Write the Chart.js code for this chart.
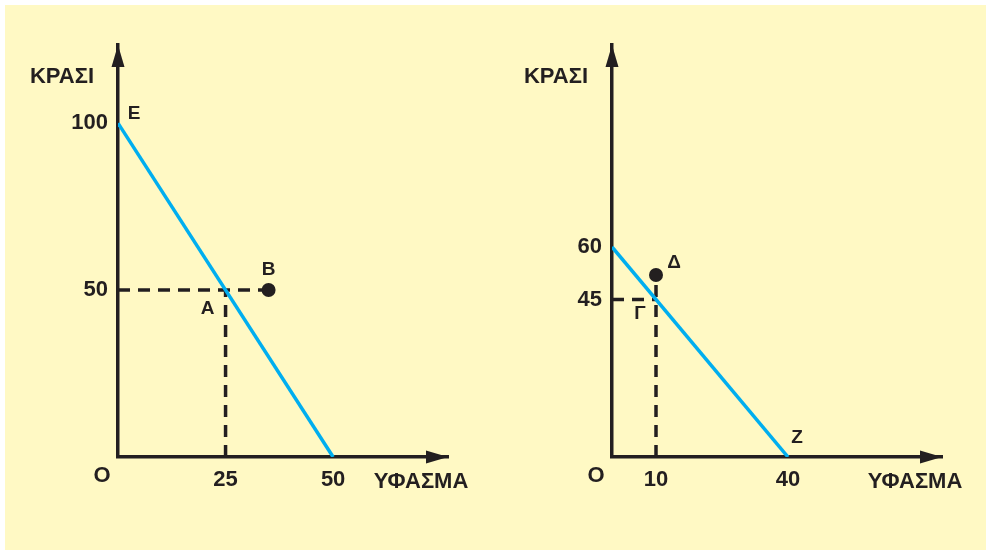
<!DOCTYPE html>
<html>
<head>
<meta charset="utf-8">
<script src="https://cdn.jsdelivr.net/npm/chart.js@4.4.1/dist/chart.umd.min.js"></script>
<style>
  body { margin: 0; background: #fff; width: 986px; height: 550px; overflow: hidden; position: relative; }
  #bg { position: absolute; left: 5px; top: 5px; width: 981px; height: 545px; background: #fff9c4; }
  .panel { position: absolute; top: 0; width: 493px; height: 550px; }
</style>
</head>
<body>
<div id="bg"></div>
<div class="panel" style="left:0"><canvas id="leftChart" width="493" height="550"></canvas></div>
<div class="panel" style="left:493px"><canvas id="rightChart" width="493" height="550"></canvas></div>
<script>
// left diagram
const leftXTicks = [25, 50];
const leftYTicks = [50, 100];
const leftFrontier = [{x: 0, y: 100}, {x: 50, y: 0}];
const pointA = {x: 25, y: 50};
const pointB = {x: 35, y: 50};

// right diagram
const rightXTicks = [10, 40];
const rightYTicks = [45, 60];
const rightFrontier = [{x: 0, y: 60}, {x: 40, y: 0}];
const pointG = {x: 10, y: 45};
const pointD = {x: 10, y: 52};

const yTitle = 'ΚΡΑΣΙ';
const xTitle = 'ΥΦΑΣΜΑ';
const originLabel = 'O';

const ink = '#231f20';
const blue = '#00aeef';
const fontFamily = '"Liberation Sans", Arial, Helvetica, sans-serif';

// draws arrows, axis titles, origin and point letters
const extrasPlugin = {
  id: 'extras',
  afterDraw(chart, args, opts) {
    const c = chart.ctx;
    const a = chart.chartArea;
    const xs = chart.scales.x, ys = chart.scales.y;
    c.save();
    c.fillStyle = ink;
    // y arrow
    c.beginPath();
    c.moveTo(a.left, a.top);
    c.lineTo(a.left - 6.5, a.top + 22);
    c.lineTo(a.left + 6.5, a.top + 22);
    c.closePath();
    c.fill();
    // x arrow
    c.beginPath();
    c.moveTo(a.right, a.bottom);
    c.lineTo(a.right - 22, a.bottom - 6.5);
    c.lineTo(a.right - 22, a.bottom + 6.5);
    c.closePath();
    c.fill();

    c.font = 'bold 22px ' + fontFamily;
    c.textAlign = 'center';
    c.textBaseline = 'middle';
    c.fillText(yTitle, a.left - 56, 77);
    c.fillText(xTitle, a.right - 27, a.bottom + 25);
    c.fillText(originLabel, a.left - 16, a.bottom + 19);

    c.font = 'bold 19px ' + fontFamily;
    opts.labels.forEach(l => {
      const px = xs.getPixelForValue(l.at.x);
      const py = ys.getPixelForValue(l.at.y);
      c.fillText(l.text, px + l.dx, py + l.dy);
    });
    c.restore();
  }
};

function makeChart(id, cfg) {
  const tickFont = {family: fontFamily, size: 22, weight: 'bold'};
  return new Chart(document.getElementById(id), {
    type: 'scatter',
    data: {
      datasets: [
        {data: cfg.dots, pointRadius: 7, pointBackgroundColor: ink, pointBorderWidth: 0, order: 0},
        {data: cfg.frontier, showLine: true, borderColor: blue, borderWidth: 3.5, pointRadius: 0, order: 1},
        {data: cfg.hGuide, showLine: true, borderColor: ink, borderWidth: 3.5, borderDash: [12, 8], pointRadius: 0, order: 2},
        {data: cfg.vGuide, showLine: true, borderColor: ink, borderWidth: 3.5, borderDash: [12, 8], pointRadius: 0, order: 2}
      ]
    },
    options: {
      responsive: false,
      animation: false,
      layout: {padding: {left: 0, top: 45, right: cfg.padRight, bottom: 0}},
      plugins: {legend: {display: false}, tooltip: {enabled: false}, extras: {labels: cfg.labels}},
      scales: {
        x: {
          type: 'linear', min: 0, max: cfg.xMax,
          afterBuildTicks: s => { s.ticks = cfg.xTicks.map(v => ({value: v})); },
          afterFit: s => { s.height = 93; },
          grid: {display: false, drawTicks: false},
          border: {display: true, color: ink, width: 3.5},
          ticks: {font: tickFont, color: ink, padding: 10, maxRotation: 0, autoSkip: false}
        },
        y: {
          type: 'linear', min: 0, max: cfg.yMax,
          afterBuildTicks: s => { s.ticks = cfg.yTicks.map(v => ({value: v})); },
          afterFit: s => { s.width = cfg.yWidth; },
          grid: {display: false, drawTicks: false},
          border: {display: true, color: ink, width: 3.5},
          ticks: {font: tickFont, color: ink, padding: 10, autoSkip: false}
        }
      }
    },
    plugins: [extrasPlugin]
  });
}

makeChart('leftChart', {
  xTicks: leftXTicks, yTicks: leftYTicks, xMax: 76.7, yMax: 123.4,
  yWidth: 118, padRight: 45,
  frontier: leftFrontier,
  dots: [pointB],
  hGuide: [{x: 0, y: pointA.y}, {x: pointB.x, y: pointB.y}],
  vGuide: [{x: pointA.x, y: 0}, {x: pointA.x, y: pointA.y}],
  labels: [
    {text: 'Ε', at: leftFrontier[0], dx: 16, dy: -9},
    {text: 'Α', at: pointA, dx: -18, dy: 19},
    {text: 'Β', at: pointB, dx: 0, dy: -20}
  ]
});

makeChart('rightChart', {
  xTicks: rightXTicks, yTicks: rightYTicks, xMax: 75, yMax: 117.7,
  yWidth: 119, padRight: 44,
  frontier: rightFrontier,
  dots: [pointD],
  hGuide: [{x: 0, y: pointG.y}, {x: pointG.x, y: pointG.y}],
  vGuide: [{x: pointD.x, y: 0}, {x: pointD.x, y: pointD.y}],
  labels: [
    {text: 'Δ', at: pointD, dx: 18, dy: -12},
    {text: 'Γ', at: pointG, dx: -16, dy: 14},
    {text: 'Ζ', at: rightFrontier[1], dx: 9, dy: -19}
  ]
});
</script>
</body>
</html>
